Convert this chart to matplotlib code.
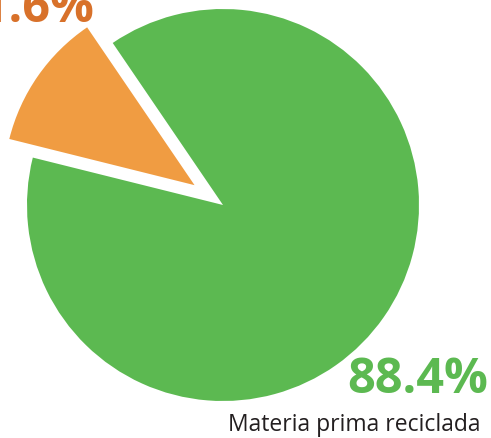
import matplotlib.pyplot as plt

# datos
etiquetas = ['Materia prima reciclada', 'Materia prima virgen']
valores = [88.4, 11.6]
colores = ['#5cb951', '#f09c42']
separar = [0, 0.177]

W, H = 491, 438
cx, cy, r = 223, 205, 196   # centro y radio en px

fig = plt.figure(figsize=(W / 100, H / 100), dpi=100)
ax = fig.add_axes([0, 0, 1, 1])

cunas, _ = ax.pie(valores, colors=colores, explode=separar, startangle=166,
                  counterclock=True, radius=1, wedgeprops=dict(linewidth=0))
cunas[1].set_radius(0.974)  # la cuña naranja es un poco más chica
ax.set_aspect('auto')
ax.set_xlim(-cx / r, (W - cx) / r)
ax.set_ylim(-(H - cy) / r, cy / r)
ax.axis('off')

# etiquetas
fig.text(488 / W, 1 - 393 / H, '%.1f%%' % valores[0], color=colores[0],
         fontsize=35, fontweight='bold', family='Open Sans', ha='right', va='baseline')
fig.text(481 / W, 1 - 431 / H, etiquetas[0], color='#231f20',
         fontsize=16.5, family='Open Sans', ha='right', va='baseline')
fig.text(94 / W, 1 - 22 / H, '%.1f%%' % valores[1], color='#d8712a',
         fontsize=35, fontweight='bold', family='Open Sans', ha='right', va='baseline')

fig.savefig('out.png', dpi=100)
